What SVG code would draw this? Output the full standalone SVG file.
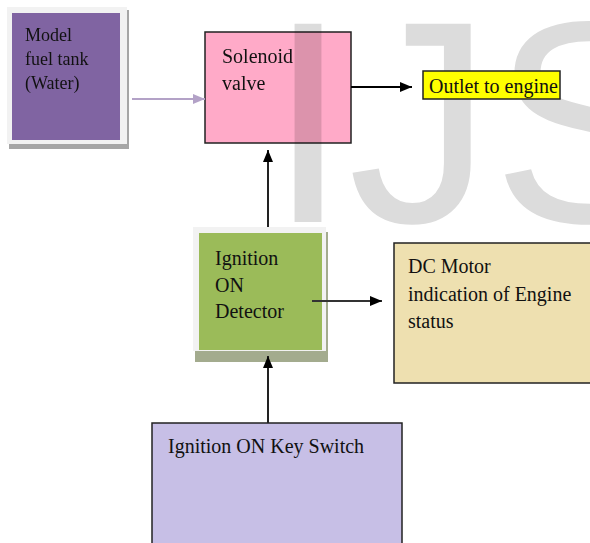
<svg xmlns="http://www.w3.org/2000/svg" width="590" height="543" viewBox="0 0 590 543">
<defs>
<style>
.t{font-family:"Liberation Serif","Times New Roman",serif;font-size:20px;fill:#111}
.box{stroke:#222;stroke-width:1.5}
.wm{font-family:"Liberation Sans",Arial,sans-serif;font-size:288px;fill:#dcdcdc;mix-blend-mode:multiply}
</style>
<marker id="ah" viewBox="0 0 12 10" refX="12" refY="5" markerWidth="12" markerHeight="10" markerUnits="userSpaceOnUse" orient="auto"><path d="M0,0 L12,5 L0,10 Z" fill="#000"/></marker>
<marker id="ahp" viewBox="0 0 12 10" refX="12" refY="5" markerWidth="12" markerHeight="10" markerUnits="userSpaceOnUse" orient="auto"><path d="M0,0 L12,5 L0,10 Z" fill="#b3a2c7"/></marker>
</defs>
<rect width="590" height="543" fill="#fff"/>
<g id="fuel-tank">
<rect x="9" y="10" width="120" height="139" fill="#a6a6a6"/>
<rect x="7" y="7" width="120" height="137" fill="#f2f2f2"/>
<rect x="12" y="13" width="108" height="127" fill="#8064a2"/>
<text class="t" style="font-size:18px" x="25" y="41">Model</text>
<text class="t" style="font-size:18px" x="25" y="65">fuel tank</text>
<text class="t" style="font-size:18px" x="25" y="89">(Water)</text>
</g>
<g id="solenoid">
<rect class="box" x="205" y="32" width="146" height="111" fill="#ffaac8"/>
<text class="t" x="222" y="63">Solenoid</text>
<text class="t" x="222" y="90">valve</text>
</g>
<text class="wm" x="268" y="222">IJS</text>
<g id="outlet">
<rect class="box" x="423" y="71" width="137" height="28" fill="#ffff00"/>
<text class="t" x="429" y="93">Outlet to engine</text>
</g>
<g id="detector">
<rect x="195" y="232" width="133" height="130" fill="#a3ab8e"/>
<rect x="193" y="227" width="133" height="124" fill="#f2f2f2"/>
<rect x="199" y="233" width="123" height="117" fill="#9bbb59"/>
<text class="t" x="215" y="265">Ignition</text>
<text class="t" x="215" y="292">ON</text>
<text class="t" x="215" y="318">Detector</text>
</g>
<g id="dc-motor">
<rect class="box" x="394" y="243" width="200" height="140" fill="#eee0b0"/>
<text class="t" x="408" y="273">DC Motor</text>
<text class="t" x="408" y="301">indication of Engine</text>
<text class="t" x="408" y="328">status</text>
</g>
<g id="key-switch">
<rect class="box" x="152" y="423" width="250" height="130" fill="#c7bfe6"/>
<text class="t" x="168" y="453">Ignition ON Key Switch</text>
</g>
<g id="connectors" fill="none" stroke-width="2">
<line x1="132" y1="99" x2="205" y2="99" stroke="#b3a2c7" marker-end="url(#ahp)"/>
<line x1="351" y1="87" x2="412" y2="87" stroke="#000" marker-end="url(#ah)"/>
<line x1="268" y1="227" x2="268" y2="150" stroke="#222" marker-end="url(#ah)"/>
<line x1="312" y1="301" x2="382" y2="301" stroke="#333" marker-end="url(#ah)"/>
<line x1="268" y1="423" x2="268" y2="356" stroke="#222" marker-end="url(#ah)"/>
</g>
</svg>
